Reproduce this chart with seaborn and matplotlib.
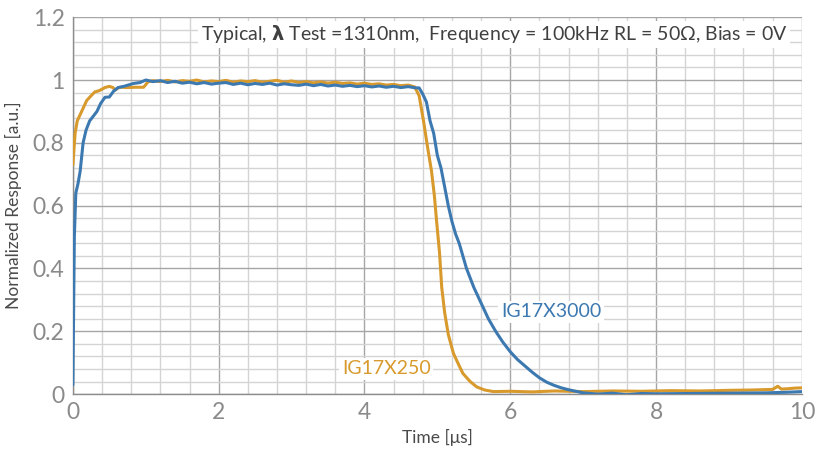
import numpy as np
import pandas as pd
import seaborn as sns
import matplotlib.pyplot as plt
from matplotlib.ticker import MultipleLocator

# ------------------------
# Data
# ------------------------
T_3000 = [0.0, 0.02, 0.04, 0.07, 0.1, 0.14, 0.18, 0.23, 0.28, 0.33, 0.38, 0.44, 0.5,
          0.56, 0.62, 0.7, 0.83, 0.92, 1.0, 1.1, 1.2, 1.3, 1.4, 1.5, 1.6, 1.7, 1.8,
          1.9, 2.0, 2.1, 2.2, 2.3, 2.4, 2.5, 2.6, 2.7, 2.8, 2.9, 3.0, 3.1, 3.2, 3.3,
          3.4, 3.5, 3.6, 3.7, 3.8, 3.9, 4.0, 4.1, 4.2, 4.3, 4.4, 4.5, 4.6, 4.7,
          4.75, 4.8, 4.85, 4.9, 4.95, 5.0, 5.05, 5.1, 5.15, 5.2, 5.25, 5.3, 5.35,
          5.4, 5.5, 5.6, 5.7, 5.8, 5.9, 6.0, 6.1, 6.2, 6.3, 6.4, 6.5, 6.6, 6.7,
          6.8, 6.9, 7.0, 7.1, 7.2, 7.4, 7.6, 7.8, 8.0, 8.5, 9.0, 9.5, 9.8, 10.0]
Y_3000 = [0.03, 0.50, 0.64, 0.67, 0.71, 0.80, 0.84, 0.87, 0.885, 0.90, 0.925, 0.945,
          0.946, 0.965, 0.976, 0.98, 0.989, 0.992, 1.0, 0.995, 0.998, 0.992, 0.996,
          0.99, 0.993, 0.988, 0.992, 0.987, 0.99, 0.992, 0.986, 0.99, 0.985, 0.989,
          0.986, 0.99, 0.984, 0.988, 0.985, 0.983, 0.987, 0.982, 0.986, 0.981,
          0.984, 0.98, 0.983, 0.979, 0.982, 0.978, 0.981, 0.977, 0.98, 0.976,
          0.979, 0.975, 0.975, 0.955, 0.93, 0.87, 0.83, 0.76, 0.72, 0.66, 0.60,
          0.55, 0.51, 0.48, 0.44, 0.40, 0.34, 0.29, 0.24, 0.20, 0.165, 0.135, 0.11,
          0.09, 0.07, 0.052, 0.038, 0.028, 0.02, 0.014, 0.009, 0.004, 0.002,
          0.0, 0.003, -0.002, 0.002, 0.001, 0.002, 0.003, 0.004, 0.006, 0.008]

T_250 = [0.0, 0.03, 0.06, 0.1, 0.14, 0.19, 0.25, 0.3, 0.36, 0.44, 0.5, 0.55, 0.58,
         0.62, 0.66, 0.75, 0.85, 0.97, 1.03, 1.1, 1.2, 1.3, 1.4, 1.5, 1.6, 1.7, 1.8,
         1.9, 2.0, 2.1, 2.2, 2.3, 2.4, 2.5, 2.6, 2.7, 2.8, 2.9, 3.0, 3.1, 3.2, 3.3,
         3.4, 3.5, 3.6, 3.7, 3.8, 3.9, 4.0, 4.1, 4.2, 4.3, 4.4, 4.5, 4.6, 4.69,
         4.75, 4.81, 4.87, 4.92, 4.96, 4.99, 5.03, 5.06, 5.1, 5.15, 5.22, 5.28,
         5.35, 5.45, 5.54, 5.65, 5.77, 6.0, 6.3, 6.6, 7.0, 7.4, 7.8, 8.2, 8.6, 9.0,
         9.3, 9.6, 9.67, 9.72, 9.8, 9.9, 10.0]
Y_250 = [0.73, 0.83, 0.87, 0.89, 0.91, 0.935, 0.95, 0.962, 0.966, 0.976, 0.98, 0.976,
         0.968, 0.975, 0.977, 0.976, 0.977, 0.977, 0.994, 0.998, 0.995, 0.999, 0.994,
         0.998, 0.996, 1.0, 0.994, 0.997, 0.995, 0.999, 0.993, 0.997, 0.995, 0.998,
         0.993, 0.996, 0.999, 0.993, 0.997, 0.992, 0.995, 0.991, 0.994, 0.99,
         0.993, 0.989, 0.991, 0.987, 0.99, 0.986, 0.988, 0.984, 0.986, 0.982,
         0.984, 0.978, 0.95, 0.87, 0.78, 0.71, 0.63, 0.55, 0.45, 0.34, 0.26, 0.19,
         0.13, 0.10, 0.066, 0.04, 0.023, 0.013, 0.008, 0.009, 0.007, 0.01, 0.008,
         0.01, 0.009, 0.011, 0.01, 0.012, 0.013, 0.015, 0.025, 0.016, 0.017, 0.019,
         0.02]

BLUE = "#3d79b1"
ORANGE = "#d89a2c"

df = pd.concat([
    pd.DataFrame({"Time": T_3000, "Response": Y_3000, "Part": "IG17X3000"}),
    pd.DataFrame({"Time": T_250, "Response": Y_250, "Part": "IG17X250"}),
])

# ------------------------
# Plotting
# ------------------------
sns.set_style("white")
plt.rcParams['font.family'] = ['Lato', 'DejaVu Sans']

fig = plt.figure(figsize=(8.19, 4.53), dpi=100)
ax = fig.add_axes([0.089, 0.130, 0.890, 0.832])

sns.lineplot(data=df, x="Time", y="Response", hue="Part", sort=False,
             palette={"IG17X3000": BLUE, "IG17X250": ORANGE},
             hue_order=["IG17X250", "IG17X3000"],
             linewidth=2.2, legend=False, ax=ax, zorder=5)

ax.set_xlim(0, 10)
ax.set_ylim(0, 1.2)
ax.xaxis.set_major_locator(MultipleLocator(2))
ax.xaxis.set_minor_locator(MultipleLocator(0.4))
ax.yaxis.set_major_locator(MultipleLocator(0.2))
ax.yaxis.set_minor_locator(MultipleLocator(0.04))
ax.yaxis.set_major_formatter(lambda v, p: f"{v:g}")
ax.grid(True, which="major", color="#a6a6a6", linewidth=1.0)
ax.grid(True, which="minor", color="#d4d4d4", linewidth=1.0)
ax.set_axisbelow(True)
ax.tick_params(which="both", length=0, labelsize=16.5, labelcolor="#8a8a8a", pad=6)
for side in ["top", "right"]:
    ax.spines[side].set_visible(False)
for side in ["left", "bottom"]:
    ax.spines[side].set_color("#8c8c8c")
    ax.spines[side].set_linewidth(1.0)

ax.set_xlabel("Time [μs]", fontsize=12.5, color="#4a4a4a", labelpad=4)
ax.set_ylabel("Normalized Response [a.u.]", fontsize=12.5, color="#4a4a4a", labelpad=8)

box = dict(facecolor="white", edgecolor="none", pad=2)
ax.text(9.8, 1.145, r"Typical, $\mathbf{\lambda}$ Test =1310nm,  Frequency = 100kHz RL = 50Ω, Bias = 0V",
        ha="right", va="center", fontsize=14, color="#404040", bbox=box, zorder=6)
ax.text(6.56, 0.262, "IG17X3000", ha="center", va="center", fontsize=14,
        color=BLUE, bbox=box, zorder=6)
ax.text(4.3, 0.08, "IG17X250", ha="center", va="center", fontsize=14,
        color=ORANGE, bbox=box, zorder=6)

fig.savefig("out.png", dpi=100)
